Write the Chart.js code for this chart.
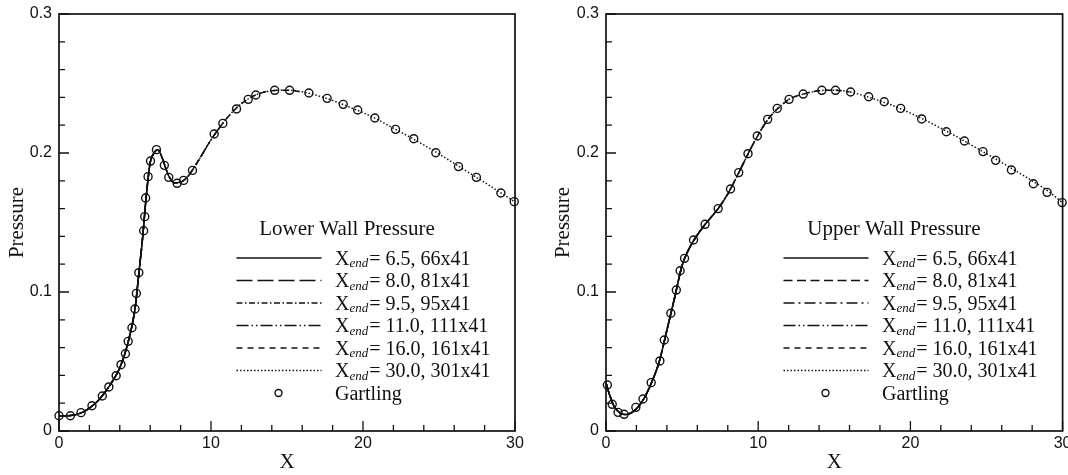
<!DOCTYPE html>
<html>
<head>
<meta charset="utf-8">
<script src="https://cdn.jsdelivr.net/npm/chart.js@4.4.1/dist/chart.umd.min.js"></script>
<style>
  html, body { margin: 0; padding: 0; background: #fff; }
  #wrap { position: relative; width: 1068px; height: 475px; }
  .panel { position: absolute; top: 0; width: 534px; height: 475px; }
</style>
</head>
<body>
<div id="wrap">
  <div class="panel" style="left:0"><canvas id="lowerChart" width="534" height="475"></canvas></div>
  <div class="panel" style="left:534px"><canvas id="upperChart" width="534" height="475"></canvas></div>
</div>
<script>
// --- data ---
const xEndValues = [6.5, 8.0, 9.5, 11.0, 16.0, 30.0];
const gridSizes = ['66x41', '81x41', '95x41', '111x41', '161x41', '301x41'];

const xTicks = [0, 10, 20, 30];
const yTicks = [0, 0.1, 0.2, 0.3];
const xMinorTicks = [2, 4, 6, 8, 12, 14, 16, 18, 22, 24, 26, 28];
const yMinorTicks = [0.02, 0.04, 0.06, 0.08, 0.12, 0.14, 0.16, 0.18, 0.22, 0.24, 0.26, 0.28];

// lower wall, computed curve
const lowerX = [0, 0.5, 1, 1.5, 2, 2.5, 3, 3.5, 4, 4.5, 5, 5.25, 5.5, 5.75, 6.0, 6.25, 6.5,
  6.8, 7.2, 7.6, 8.0, 8.5, 9.0, 9.5, 10, 11, 12, 13, 14, 15, 16, 17, 18, 19, 20,
  21, 22, 23, 24, 25, 26, 27, 28, 29, 30];
const lowerP = [0.0110, 0.0110, 0.0115, 0.0132, 0.0165, 0.0210, 0.0275, 0.0355, 0.0455, 0.0620,
  0.0880, 0.1130, 0.1390, 0.1700, 0.1930, 0.2000, 0.2025,
  0.1960, 0.1840, 0.1785, 0.1790, 0.1835, 0.1915, 0.2005, 0.2095, 0.2245, 0.2355, 0.2420,
  0.2448, 0.2452, 0.2440, 0.2413, 0.2378, 0.2335, 0.2290,
  0.2238, 0.2178, 0.2120, 0.2058, 0.1993, 0.1925, 0.1856, 0.1788, 0.1718, 0.1648];

// lower wall, Gartling
const lowerGX = [0, 0.75, 1.45, 2.17, 2.85, 3.28, 3.76, 4.08, 4.37, 4.55, 4.8, 5.0, 5.09, 5.25,
  5.57, 5.64, 5.7, 5.86, 6.02, 6.41, 6.93, 7.22, 7.77, 8.2, 8.78, 10.21, 10.78, 11.68,
  12.45, 12.95, 14.19, 15.17, 16.44, 17.64, 18.7, 19.65, 20.78, 22.14, 23.34, 24.79,
  26.28, 27.46, 29.07, 29.95];
const lowerGP = [0.0110, 0.0110, 0.0132, 0.0182, 0.0252, 0.0317, 0.0398, 0.0477, 0.0556, 0.0645,
  0.0743, 0.0878, 0.0990, 0.1139, 0.1441, 0.1542, 0.1676, 0.1830, 0.1942, 0.2024, 0.1911,
  0.1825, 0.1782, 0.1803, 0.1875, 0.2137, 0.2213, 0.2317, 0.2386, 0.2417, 0.2451, 0.2451,
  0.2432, 0.2393, 0.2350, 0.2309, 0.2252, 0.2170, 0.2103, 0.2002, 0.1902, 0.1825, 0.1712,
  0.1650];

// upper wall, computed curve
const upperX = [0, 0.25, 0.5, 0.75, 1, 1.25, 1.5, 2, 2.5, 3, 3.5, 4, 4.5, 5, 5.5, 6, 6.5,
  7, 7.5, 8, 8.5, 9, 9.5, 10, 10.5, 11, 11.5, 12, 13, 14, 15, 16, 17, 18, 19, 20,
  21, 22, 23, 24, 25, 26, 27, 28, 29, 30];
const upperP = [0.0345, 0.0255, 0.0185, 0.0145, 0.0125, 0.0118, 0.0122, 0.0160, 0.0235, 0.0350,
  0.0500, 0.0725, 0.0955, 0.1190, 0.1320, 0.1410, 0.1485,
  0.1550, 0.1620, 0.1705, 0.1810, 0.1920, 0.2030, 0.2130, 0.2220, 0.2290, 0.2340, 0.2385,
  0.2425, 0.2448, 0.2452, 0.2440, 0.2410, 0.2375, 0.2335, 0.2287,
  0.2235, 0.2178, 0.2120, 0.2058, 0.1995, 0.1932, 0.1866, 0.1800, 0.1730, 0.1642];

// upper wall, Gartling
const upperGX = [0.09, 0.41, 0.79, 1.19, 1.96, 2.43, 2.97, 3.54, 3.83, 4.26, 4.62, 4.87, 5.16,
  5.75, 6.51, 7.37, 8.18, 8.72, 9.33, 9.94, 10.62, 11.25, 12.03, 12.96, 14.18, 15.08,
  16.07, 17.26, 18.28, 19.36, 20.74, 22.36, 23.55, 24.77, 25.6, 26.64, 28.08, 28.98, 29.97];
const upperGP = [0.0331, 0.0192, 0.0134, 0.0120, 0.0170, 0.0230, 0.0348, 0.0504, 0.0655, 0.0847,
  0.1014, 0.1153, 0.1242, 0.1374, 0.1487, 0.1600, 0.1741, 0.1859, 0.1995, 0.2122, 0.2242,
  0.2321, 0.2386, 0.2424, 0.2451, 0.2451, 0.2439, 0.2405, 0.2369, 0.2321, 0.2245, 0.2153,
  0.2086, 0.2010, 0.1947, 0.1878, 0.1779, 0.1717, 0.1643];

// --- styling ---
const SERIF = "'Liberation Serif', 'Times New Roman', serif";
const SANS = "'Liberation Sans', Arial, sans-serif";
const lowerDashes = [[], [16, 5], [6, 2.5, 1.5, 2.5], [12, 3, 1.5, 3, 1.5, 3], [6, 5], [1.5, 2]];
const upperDashes = [[], [9, 4.5], [11, 4, 2, 4], [12, 3, 1.5, 3, 1.5, 3], [6, 5], [1.5, 2]];

function curveUpTo(xs, ps, xEnd) {
  const pts = [];
  for (let i = 0; i < xs.length; i++) {
    if (xs[i] <= xEnd + 1e-9) pts.push({ x: xs[i], y: ps[i] });
  }
  return pts;
}

// frame + inward ticks
const framePlugin = {
  id: 'frame',
  afterDraw(chart) {
    const { ctx, chartArea: a, scales } = chart;
    ctx.save();
    ctx.strokeStyle = '#111';
    ctx.lineWidth = 1.7;
    ctx.setLineDash([]);
    ctx.strokeRect(a.left, a.top, a.right - a.left, a.bottom - a.top);
    ctx.lineWidth = 1.3;
    ctx.beginPath();
    xTicks.forEach(v => { const px = scales.x.getPixelForValue(v); ctx.moveTo(px, a.bottom); ctx.lineTo(px, a.bottom - 10); });
    xMinorTicks.forEach(v => { const px = scales.x.getPixelForValue(v); ctx.moveTo(px, a.bottom); ctx.lineTo(px, a.bottom - 6); });
    yTicks.forEach(v => { const py = scales.y.getPixelForValue(v); ctx.moveTo(a.left, py); ctx.lineTo(a.left + 10, py); });
    yMinorTicks.forEach(v => { const py = scales.y.getPixelForValue(v); ctx.moveTo(a.left, py); ctx.lineTo(a.left + 6, py); });
    ctx.stroke();
    ctx.restore();
  }
};

// legend with subscript text, drawn inside the plot
const legendPlugin = {
  id: 'wallLegend',
  afterDraw(chart, args, opts) {
    const { ctx, chartArea: a } = chart;
    ctx.save();
    ctx.fillStyle = '#111';
    ctx.strokeStyle = '#111';
    ctx.textBaseline = 'alphabetic';
    ctx.font = '21px ' + SERIF;
    ctx.textAlign = 'center';
    ctx.fillText(opts.title, a.left + 288, a.top + 214 + 7);
    ctx.textAlign = 'left';
    const x0 = a.left + 177.5, x1 = a.left + 262.5, tx = a.left + 276;
    xEndValues.forEach((xe, i) => {
      const y = a.top + 244 + i * 22.5;
      ctx.lineWidth = 1.5;
      ctx.setLineDash(opts.dashes[i]);
      ctx.beginPath();
      ctx.moveTo(x0, y);
      ctx.lineTo(x1, y);
      ctx.stroke();
      ctx.setLineDash([]);
      ctx.font = '20px ' + SERIF;
      ctx.fillText('X', tx, y + 6.5);
      let cx = tx + ctx.measureText('X').width;
      ctx.font = 'italic 13px ' + SERIF;
      ctx.fillText('end', cx, y + 9);
      cx += ctx.measureText('end').width + 1;
      ctx.font = '20px ' + SERIF;
      ctx.fillText('= ' + xe.toFixed(1) + ', ' + gridSizes[i], cx, y + 6.5);
    });
    const gy = a.top + 244 + 6 * 22.5;
    ctx.lineWidth = 1.4;
    ctx.beginPath();
    ctx.arc(a.left + 219.5, gy, 3.5, 0, Math.PI * 2);
    ctx.stroke();
    ctx.font = '20px ' + SERIF;
    ctx.fillText('Gartling', tx, gy + 6.5);
    ctx.restore();
  }
};

function makePanel(id, cfg) {
  const datasets = [];
  xEndValues.forEach((xe, i) => {
    datasets.push({
      label: 'X_end = ' + xe.toFixed(1) + ', ' + gridSizes[i],
      data: curveUpTo(cfg.xs, cfg.ps, xe),
      borderColor: '#111',
      borderWidth: 1.5,
      borderDash: cfg.dashes[i],
      pointRadius: 0,
      fill: false,
      cubicInterpolationMode: 'monotone',
      clip: false
    });
  });
  datasets.push({
    label: 'Gartling',
    data: cfg.gx.map((x, i) => ({ x: x, y: cfg.gp[i] })),
    showLine: false,
    pointStyle: 'circle',
    pointRadius: 4,
    pointBorderWidth: 1.4,
    borderColor: '#111',
    backgroundColor: 'rgba(0,0,0,0)',
    pointBackgroundColor: 'rgba(0,0,0,0)',
    clip: false
  });

  return new Chart(document.getElementById(id), {
    type: 'line',
    data: { datasets: datasets },
    options: {
      responsive: false,
      animation: false,
      layout: { padding: { left: 0, top: 14, right: cfg.rightPad, bottom: 0 } },
      plugins: {
        legend: { display: false },
        tooltip: { enabled: false },
        wallLegend: { title: cfg.title, dashes: cfg.dashes }
      },
      scales: {
        x: {
          type: 'linear', min: 0, max: 30,
          afterBuildTicks: s => { s.ticks = xTicks.map(v => ({ value: v })); },
          grid: { display: false, drawTicks: false },
          border: { display: false },
          ticks: { color: '#111', font: { family: SANS, size: 16 }, padding: 3, maxRotation: 0 },
          title: { display: true, text: 'X', color: '#111',
                   font: { family: SERIF, size: 21, lineHeight: 1 }, padding: { top: 2, bottom: 2 } },
          afterFit: s => { s.height = 44; s.paddingLeft = 0; s.paddingRight = 0; }
        },
        y: {
          type: 'linear', min: 0, max: 0.3,
          afterBuildTicks: s => { s.ticks = yTicks.map(v => ({ value: v })); },
          grid: { display: false, drawTicks: false },
          border: { display: false },
          ticks: { color: '#111', font: { family: SANS, size: 16 }, padding: 7,
                   callback: v => String(v) },
          title: { display: true, text: 'Pressure', color: '#111',
                   font: { family: SERIF, size: 21, lineHeight: 1 },
                   padding: { top: cfg.yTitlePad, bottom: 0 } },
          afterFit: s => { s.width = cfg.yWidth; s.paddingTop = 0; s.paddingBottom = 0; }
        }
      }
    },
    plugins: [framePlugin, legendPlugin]
  });
}

makePanel('lowerChart', {
  xs: lowerX, ps: lowerP, gx: lowerGX, gp: lowerGP,
  dashes: lowerDashes, title: 'Lower Wall Pressure',
  yWidth: 59, rightPad: 19, yTitlePad: 6.5
});
makePanel('upperChart', {
  xs: upperX, ps: upperP, gx: upperGX, gp: upperGP,
  dashes: upperDashes, title: 'Upper Wall Pressure',
  yWidth: 72, rightPad: 5, yTitlePad: 18.5
});
</script>
</body>
</html>
